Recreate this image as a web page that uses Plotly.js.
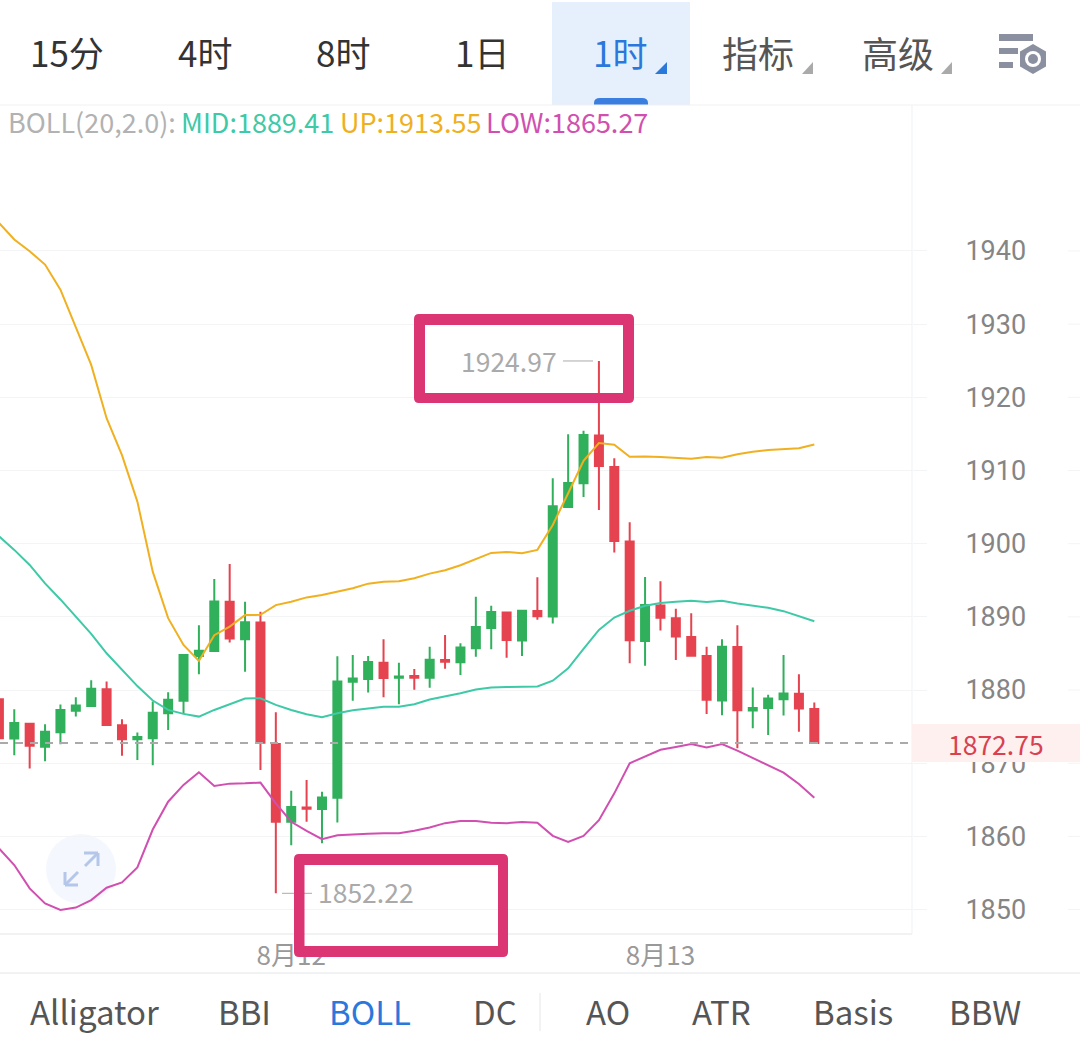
<!DOCTYPE html>
<html>
<head>
<meta charset="utf-8">
<script src="https://cdn.plot.ly/plotly-3.0.1.min.js"></script>
<style>html,body{margin:0;padding:0;background:#fff;overflow:hidden}#chart{width:1080px;height:1057px}</style>
</head>
<body>
<div id="chart"></div>
<script>
const candleOpen = [1878.75,1873.38,1875.38,1872.25,1874.22,1877.18,1877.83,1880.12,1875.18,1873.28,1873.4,1876.83,1878.52,1884.64,1885.34,1892.06,1886.94,1889.22,1872.62,1862.0,1863.96,1863.73,1865.29,1881.13,1881.5,1883.74,1881.68,1881.91,1881.68,1884.1,1883.79,1885.71,1888.49,1890.6,1886.76,1890.79,1890.05,1905.02,1908.27,1914.77,1910.47,1900.31,1886.71,1891.56,1889.82,1887.26,1884.65,1878.57,1885.89,1877.19,1877.56,1878.75,1879.48,1877.42];
const candleHigh = [1879.18,1877.38,1875.38,1875.32,1878.01,1879.02,1881.34,1881.18,1876.0,1874.18,1878.43,1879.71,1884.79,1888.86,1895.17,1897.23,1892.06,1890.7,1876.96,1866.25,1867.71,1866.11,1884.61,1884.79,1884.64,1886.94,1883.74,1882.87,1885.93,1887.53,1886.39,1892.75,1891.52,1890.6,1890.83,1895.4,1908.95,1914.95,1915.45,1924.97,1911.66,1902.92,1895.45,1894.86,1891.1,1890.51,1885.93,1886.94,1888.84,1880.34,1879.34,1884.79,1882.14,1878.29];
const candleLow = [1873.18,1871.08,1869.26,1870.28,1872.58,1876.38,1877.83,1875.23,1871.02,1870.43,1869.71,1874.54,1876.74,1882.14,1885.34,1886.48,1882.5,1869.08,1852.22,1858.79,1862.0,1859.06,1861.91,1878.52,1879.66,1879.02,1878.06,1880.03,1880.31,1882.92,1882.05,1884.56,1885.57,1884.42,1884.65,1889.59,1889.09,1905.02,1906.39,1904.61,1898.79,1883.65,1883.33,1888.13,1884.1,1884.65,1876.74,1876.55,1872.03,1874.77,1873.86,1876.51,1874.31,1872.71];
const candleClose = [1873.4,1875.48,1872.38,1874.31,1877.28,1877.88,1880.17,1875.23,1873.26,1873.58,1876.88,1878.66,1884.79,1885.38,1892.1,1887.04,1889.27,1872.8,1862.0,1864.01,1863.78,1865.33,1881.18,1881.59,1883.83,1881.64,1881.84,1881.68,1884.15,1883.88,1885.8,1888.63,1890.65,1886.84,1890.83,1890.1,1905.11,1908.31,1914.86,1910.61,1900.36,1886.8,1891.61,1889.87,1887.31,1884.7,1878.66,1885.93,1877.24,1877.56,1878.84,1879.53,1877.47,1872.75];
const bollUp = [1943.86,1941.57,1939.97,1938.14,1934.72,1929.69,1924.43,1917.14,1912.11,1905.75,1896.18,1889.82,1886.16,1883.97,1887.49,1888.67,1890.24,1890.28,1891.61,1892.06,1892.66,1892.98,1893.44,1893.9,1894.54,1894.81,1894.86,1895.27,1895.91,1896.37,1897.05,1897.92,1898.74,1898.88,1898.7,1899.15,1902.55,1906.9,1911.33,1913.76,1913.53,1911.89,1911.93,1911.84,1911.75,1911.61,1911.84,1911.75,1912.21,1912.57,1912.8,1912.94,1913.03,1913.55];
const bollMid = [1901.04,1899.15,1897.1,1894.58,1892.38,1890.05,1887.67,1885.02,1882.73,1880.54,1878.56,1877.28,1876.74,1876.37,1877.28,1878.11,1878.84,1878.88,1877.97,1877.28,1876.69,1876.28,1876.83,1877.23,1877.51,1877.7,1877.7,1878.06,1878.7,1879.11,1879.57,1880.07,1880.35,1880.4,1880.4,1880.49,1881.27,1882.96,1885.64,1888.22,1889.91,1890.83,1891.52,1891.88,1892.07,1892.2,1892.02,1892.2,1891.84,1891.56,1891.24,1890.78,1890.14,1889.41];
const bollLow = [1858.38,1856.09,1852.89,1850.83,1849.95,1850.27,1851.29,1852.98,1853.71,1855.77,1860.94,1864.74,1867.03,1868.76,1866.89,1867.21,1867.25,1867.35,1864.51,1862.0,1860.76,1859.61,1860.15,1860.3,1860.35,1860.44,1860.44,1860.76,1861.22,1861.81,1862.09,1862.09,1861.86,1861.81,1861.95,1861.86,1860.07,1859.25,1860.07,1862.22,1865.88,1870.0,1870.97,1871.84,1872.21,1872.62,1872.16,1872.62,1871.71,1870.7,1869.77,1868.72,1867.16,1865.27];
const candleIndex = candleOpen.map((_, i) => i);
const yTicks = [1850,1860,1870,1880,1890,1900,1910,1920,1930,1940];
const dateTickIndex = [19,43];
const dateTickLabels = ['8月12','8月13'];
const lastPrice = 1872.75, highPrice = 1924.97, lowPrice = 1852.22;

const W = 912, H = 829, TOP = 105;
const fx = x => x / W;
const fy = y => 1 - (y - TOP) / H;
const CJK = '"Noto Sans CJK SC","Noto Sans",sans-serif';
const GRID = '#f3f4f6';

function txt(text, x, y, size, color, anchor) {
  return {text, x: fx(x), y: fy(y), xref:'paper', yref:'paper', showarrow:false,
    xanchor: anchor || 'left', yanchor:'middle', font:{family:CJK, size, color}};
}
function rect(x0,y0,x1,y1,color,layer) {
  return {type:'rect', xref:'paper', yref:'paper', x0:fx(x0), x1:fx(x1), y0:fy(y0), y1:fy(y1),
    fillcolor:color, line:{width:0}, layer:layer||'above'};
}
function poly(pts,color,layer) {
  const d = 'M' + pts.map(p => fx(p[0]) + ',' + fy(p[1])).join('L') + 'Z';
  return {type:'path', xref:'paper', yref:'paper', path:d, fillcolor:color, line:{width:0}, layer:layer||'above'};
}
function seg(x0,y0,x1,y1,color,width,layer) {
  return {type:'line', xref:'paper', yref:'paper', x0:fx(x0), x1:fx(x1), y0:fy(y0), y1:fy(y1),
    line:{color,width}, layer:layer||'above'};
}
function roundFrame(x0,y0,x1,y1,ix0,iy0,ix1,iy1,r,color) {
  const P = (x,y) => fx(x) + ',' + fy(y);
  const Q = (cx,cy,x,y) => 'Q' + P(cx,cy) + ' ' + P(x,y);
  const d = 'M' + P(x0+r,y0) + 'L' + P(x1-r,y0) + Q(x1,y0,x1,y0+r) + 'L' + P(x1,y1-r) + Q(x1,y1,x1-r,y1) +
    'L' + P(x0+r,y1) + Q(x0,y1,x0,y1-r) + 'L' + P(x0,y0+r) + Q(x0,y0,x0+r,y0) + 'Z' +
    'M' + P(ix0,iy0) + 'L' + P(ix1,iy0) + 'L' + P(ix1,iy1) + 'L' + P(ix0,iy1) + 'Z';
  return {type:'path', xref:'paper', yref:'paper', path:d, fillcolor:color, fillrule:'evenodd', line:{width:0}, layer:'above'};
}
function hexagon(cx,cy,r) {
  const pts = [];
  for (let k = 0; k < 6; k++) { const a = Math.PI/3*k - Math.PI/2; pts.push([cx + r*Math.cos(a), cy + r*Math.sin(a)]); }
  return pts;
}
function circle(cx,cy,r,color,layer) {
  return {type:'circle', xref:'paper', yref:'paper', x0:fx(cx-r), x1:fx(cx+r), y0:fy(cy-r), y1:fy(cy+r),
    fillcolor:color, line:{width:0}, layer:layer||'above'};
}

const PINK = '#dc3573', BLUE = '#2a78dc', ICON = '#8a90a0', ARROW = '#b4c7ea', TAB_TEXT = '#333333', NAV = '#555555';

const shapes = [
  rect(552,2,690,105,'#e6f0fc'),
  {type:'path', xref:'paper', yref:'paper', layer:'above', fillcolor:'#3a7fe0', line:{width:0},
   path:'M'+fx(594)+','+fy(105)+'L'+fx(594)+','+fy(103)+'Q'+fx(594)+','+fy(98)+' '+fx(600)+','+fy(98)+'L'+fx(642)+','+fy(98)+'Q'+fx(648)+','+fy(98)+' '+fx(648)+','+fy(103)+'L'+fx(648)+','+fy(105)+'Z'},
  poly([[667,62],[667,74],[655,74]],BLUE),
  poly([[813,62],[813,74],[802,74]],'#aaaaaa'),
  poly([[952,62],[952,74],[941,74]],'#aaaaaa'),
  rect(999,34,1033,41,ICON), rect(999,48,1018,54,ICON), rect(999,62,1013,68,ICON),
  poly(hexagon(1033,59,15),ICON), circle(1033,59,8,'#ffffff'), circle(1033,59,5,ICON),
  seg(0,105,1080,105,'#f0f1f3',1),
  seg(912,105,912,934,'#f0f1f3',1),
  seg(0,934,912,934,'#f1f2f4',2),
  seg(0,973,1080,973,'#f1f2f4',2),
  seg(540,993,540,1031,'#e6e6e6',1),
  circle(81,869,35,'#f4f7fd','below'),
  seg(65,885,78,872,ARROW,3), seg(65,885,65,872,ARROW,3), seg(65,885,78,885,ARROW,3),
  seg(98,853,85,866,ARROW,3), seg(98,853,84,853,ARROW,3), seg(98,853,98,866,ARROW,3),
  {type:'line', xref:'paper', yref:'y', x0:0, x1:1, y0:lastPrice, y1:lastPrice, layer:'above', line:{color:'#aaaaaa', width:2, dash:'8px,7px'}},
  rect(912,724,1080,762,'#fdf0ef'),
  {type:'line', xref:'paper', yref:'y', x0:fx(563), x1:fx(593), y0:highPrice, y1:highPrice, layer:'above', line:{color:'#aaaaaa', width:1}},
  {type:'line', xref:'paper', yref:'y', x0:fx(282), x1:fx(312), y0:lowPrice, y1:lowPrice, layer:'above', line:{color:'#aaaaaa', width:1}},
  roundFrame(414,314,634,403,425,325,623,393,5,PINK),
  roundFrame(294,854,508,957,304.5,865,498,946,5,PINK)
];
yTicks.forEach(t => shapes.push({type:'line', xref:'paper', yref:'y', x0:fx(1068), x1:fx(1080), y0:t, y1:t, layer:'below', line:{color:GRID,width:1}}));

const annotations = [
  txt('15分',28,52,35,TAB_TEXT), txt('4时',176,52,35,TAB_TEXT), txt('8时',314,52,35,TAB_TEXT), txt('1日',453,52,35,TAB_TEXT),
  txt('1时',591,52,35,BLUE), txt('指标',720,52,36,NAV), txt('高级',860,52,36,NAV),
  txt('BOLL(20,2.0):',6,121,27,'#b2b2b2'),
  txt('MID:1889.41',179,121,27,'#3ec9a7'),
  txt('UP:1913.55',338,121,27,'#efb01f'),
  txt('LOW:1865.27',484,121,27,'#d04fb0'),
  txt('1924.97',459,360,26.5,'#aaaaaa'),
  txt('1852.22',316,891,26.5,'#aaaaaa'),
  txt('1872.75',996,743,26.5,'#d9414f','center'),
  txt('Alligator',28,1011,33,NAV), txt('BBI',216,1011,33,NAV), txt('BOLL',327,1011,33,BLUE), txt('DC',471,1011,33,NAV),
  txt('AO',584,1011,33,NAV), txt('ATR',690,1011,33,NAV), txt('Basis',811,1011,33,NAV), txt('BBW',947,1011,33,NAV)
];

const lineTrace = (y,color) => ({type:'scatter', mode:'lines', x:candleIndex, y, line:{color,width:2}, hoverinfo:'skip', showlegend:false});
const data = [
  {type:'candlestick', x:candleIndex, open:candleOpen, high:candleHigh, low:candleLow, close:candleClose,
   increasing:{line:{color:'#31b05c',width:2}, fillcolor:'#31b05c'},
   decreasing:{line:{color:'#e5434f',width:2}, fillcolor:'#e5434f'},
   whiskerwidth:0, showlegend:false},
  lineTrace(bollUp,'#f0b020'), lineTrace(bollMid,'#3ec9a7'), lineTrace(bollLow,'#d04fb0')
];

const layout = {
  width:1080, height:1057, margin:{l:0,r:168,t:105,b:123,pad:0},
  paper_bgcolor:'#ffffff', plot_bgcolor:'#ffffff', showlegend:false, hovermode:false,
  boxgap:0.48, boxgroupgap:0,
  xaxis:{type:'linear', range:[0.0715,59.35], rangeslider:{visible:false}, showgrid:false, zeroline:false, showline:false,
    tickmode:'array', tickvals:dateTickIndex, ticktext:dateTickLabels, ticks:'', ticklabelstandoff:4,
    tickfont:{family:CJK,size:26,color:'#999999'}},
  yaxis:{side:'right', range:[1846.66,1959.95], tickmode:'array', tickvals:yTicks, showgrid:true, gridcolor:GRID, gridwidth:1,
    zeroline:false, showline:false, ticks:'outside', ticklen:14, tickcolor:GRID, tickwidth:1, ticklabelstandoff:33,
    tickfont:{family:'Roboto,"Noto Sans",sans-serif',size:27,color:'#858585'}},
  shapes, annotations
};
Plotly.newPlot('chart', data, layout, {displayModeBar:false, staticPlot:true});
</script>
</body>
</html>
